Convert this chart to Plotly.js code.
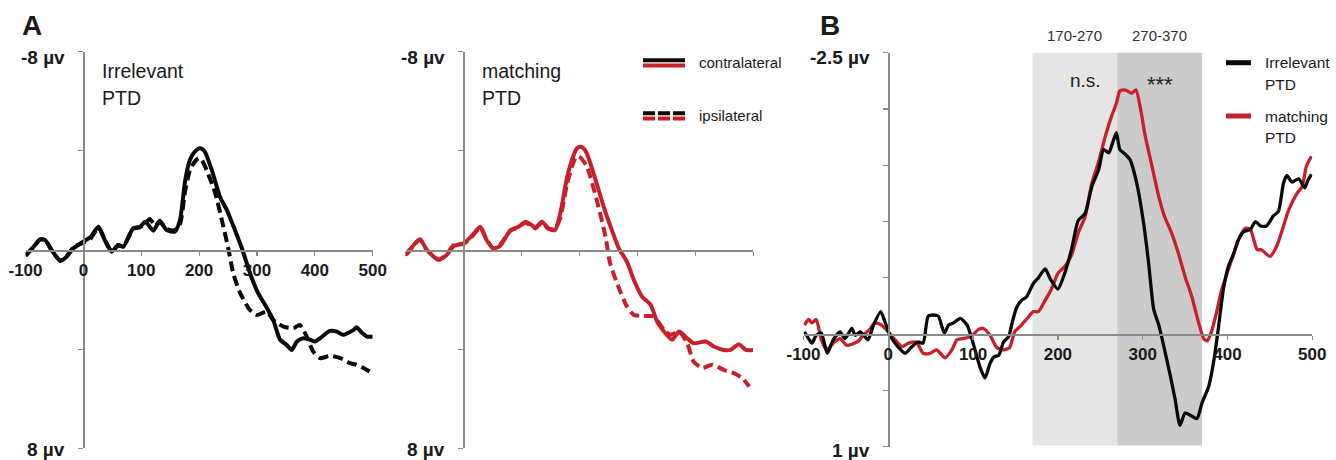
<!DOCTYPE html>
<html>
<head>
<meta charset="utf-8">
<script src="https://cdn.plot.ly/plotly-3.0.1.min.js"></script>
<style>html,body{margin:0;padding:0;background:#fff;}#chart{width:1336px;height:460px;}</style>
</head>
<body>
<div id="chart"></div>
<script>
// ---------------- DATA ----------------
// Panel A, left: Irrelevant PTD (µV, time in ms)
const tIrrContra = [-100,-86,-75,-66,-55,-40,-29,-17,0,12,26,37,49,60,69,86,98,107,121,132,144,158,167,176,184,192,199,205,210,222,236,248,262,274,288,302,314,328,340,351,360,369,380,392,400,409,426,438,449,467,472,481,490,500];
const vIrrContra = [0.24,-0.13,-0.43,-0.4,0,0.44,0.27,-0.07,-0.34,-0.51,-0.94,-0.4,0.07,-0.2,-0.13,-0.87,-0.94,-1.14,-0.78,-1.18,-0.8,-0.74,-1.21,-2.82,-3.62,-3.95,-4.09,-4.08,-3.96,-3.22,-2.15,-1.61,-0.8,-0.07,0.94,1.74,2.21,2.82,3.62,3.82,4.03,3.69,3.56,3.62,3.69,3.56,3.26,3.29,3.42,3.22,3.11,3.33,3.49,3.49];
const tIrrIpsi = [-100,-86,-75,-66,-55,-40,-29,-17,0,12,26,37,49,60,69,86,98,107,115,124,132,144,158,167,176,184,192,199,205,213,228,242,251,259,271,288,300,317,328,346,363,374,386,397,409,426,444,461,472,484,500];
const vIrrIpsi = [0.22,-0.12,-0.42,-0.4,0,0.42,0.25,-0.12,-0.3,-0.45,-0.9,-0.42,0.05,-0.18,-0.15,-0.85,-0.92,-1.08,-1.25,-0.98,-1.12,-0.85,-0.8,-1.05,-2.4,-3.2,-3.55,-3.7,-3.62,-3.22,-2.28,-0.94,0,0.94,1.74,2.42,2.62,2.48,2.82,3.09,3.15,3.02,3.49,4.09,4.36,4.27,4.36,4.56,4.63,4.76,4.97];
// Panel A, right: matching PTD
const tMatContra = [-100,-95,-86,-75,-63,-43,-29,-17,0,14,29,40,52,63,81,95,107,118,124,135,147,158,167,179,190,196,202,207,213,228,242,256,268,282,294,308,323,334,346,360,372,386,397,418,432,449,461,475,487,500];
const vMatContra = [0.2,0.1,-0.2,-0.43,0,0.4,0.2,-0.16,-0.27,-0.56,-0.94,-0.4,-0.07,-0.16,-0.8,-0.94,-1.14,-1.0,-0.87,-1.14,-0.87,-0.8,-1.48,-2.95,-3.82,-4.1,-4.16,-4.1,-3.89,-2.82,-1.74,-0.8,-0.07,0.47,1.21,1.88,2.21,2.89,3.29,3.62,3.29,3.56,3.76,3.69,3.89,4.03,4.03,3.8,4.03,4.03];
const tMatIpsi = [-100,-86,-75,-63,-43,-29,-17,0,14,29,40,52,63,81,95,107,118,124,135,147,158,167,179,190,196,202,213,230,245,253,265,282,294,311,328,346,357,372,386,397,412,429,449,467,481,493];
const vMatIpsi = [0.18,-0.18,-0.42,0,0.38,0.18,-0.2,-0.25,-0.52,-0.9,-0.42,-0.05,-0.2,-0.78,-0.92,-1.1,-0.95,-0.88,-1.1,-0.85,-0.85,-1.3,-2.7,-3.55,-3.78,-3.72,-3.36,-2.01,-0.54,0.54,1.34,2.28,2.62,2.66,2.68,3.22,3.42,3.29,3.76,4.5,4.76,4.63,4.83,4.97,5.17,5.5];
// Panel B: difference waves
const tDiffIrr = [-99,-94,-90,-85,-79,-72,-65,-57,-51,-43,-39,-33,-24,-18,-9,-4,2,10,20,28,35,41,47,53,59,66,71,77,85,93,100,108,114,120,125,130,136,142,146,151,157,163,171,177,185,191,200,208,216,224,232,240,248,254,260,265,269,273,279,285,293,301,307,313,319,324,332,338,344,350,356,364,370,378,384,389,395,401,407,413,419,427,433,439,446,454,460,466,470,476,484,491,495,499];
const vDiffIrr = [-0.02,0.04,0.08,0.01,-0.01,0.17,0.05,-0.02,0.04,-0.05,0.01,-0.02,0.05,-0.07,-0.2,-0.11,0.01,0.1,0.17,0.11,0.07,0.08,-0.16,-0.17,-0.16,-0.01,-0.08,-0.1,-0.14,-0.08,0.08,0.29,0.39,0.26,0.2,0.19,0.07,0.02,-0.1,-0.23,-0.3,-0.33,-0.45,-0.5,-0.58,-0.49,-0.4,-0.54,-0.75,-1.01,-1.07,-1.31,-1.46,-1.64,-1.61,-1.71,-1.79,-1.64,-1.6,-1.55,-1.34,-0.99,-0.63,-0.22,-0.08,0.08,0.35,0.57,0.81,0.7,0.72,0.75,0.61,0.46,0.23,-0.04,-0.39,-0.6,-0.71,-0.84,-0.91,-0.93,-1.0,-0.96,-0.96,-1.05,-1.09,-1.34,-1.41,-1.35,-1.38,-1.3,-1.37,-1.42];
const tDiffMat = [-99,-94,-90,-85,-79,-73,-65,-57,-49,-43,-35,-30,-22,-16,-8,0,8,16,24,33,41,49,57,67,75,81,88,98,106,112,120,128,136,143,149,157,165,171,177,185,193,200,208,216,224,232,240,248,256,263,269,273,279,287,292,297,303,311,319,326,334,342,350,358,366,372,376,381,387,393,399,405,413,421,427,435,440,450,458,466,472,482,488,493,499];
const vDiffMat = [-0.08,-0.13,-0.1,-0.13,0.05,0.14,0.08,0.04,0.1,0.09,0.06,0.01,-0.04,-0.1,-0.08,-0.02,0.05,0.11,0.08,0.07,0.17,0.17,0.14,0.21,0.14,0.05,0.04,0.02,-0.04,-0.05,0.01,0.12,0.14,0.12,-0.02,-0.08,-0.15,-0.2,-0.2,-0.3,-0.41,-0.54,-0.6,-0.7,-0.9,-1.04,-1.34,-1.53,-1.76,-1.93,-2.05,-2.16,-2.17,-2.14,-2.17,-2.02,-1.76,-1.49,-1.22,-1.04,-0.9,-0.72,-0.51,-0.33,-0.1,0.04,0.06,-0.02,-0.19,-0.39,-0.53,-0.66,-0.84,-0.94,-0.93,-0.75,-0.75,-0.69,-0.78,-0.96,-1.1,-1.25,-1.31,-1.49,-1.58];
// Axis ticks / labels / windows
const timeTicks = [-100,0,100,200,300,400,500];
const timeTickText = ['-100','0','100','200','300','400','500'];
const ampTicksA = [-8,-4,4,8];
const ampTicksB = [-2.5,-2,-1.5,-1,-0.5,0.5,1];
const windows = [[170,270],[270,370]];
const windowLabels = ['170-270','270-370'];
const windowStats = ['n.s.','***'];

// ---------------- LAYOUT HELPERS ----------------
const W = 1336, H = 460;
const px = x => x / W;
const py = y => 1 - y / H;
const BLACK = '#0a0a0a', RED = '#c8202a', AX = '#8a8a8a';
const NARROW = 'Liberation Sans Narrow, Arial Narrow, Liberation Sans, Arial, sans-serif';
const SANS = 'Liberation Sans, Arial, sans-serif';

const dA1x = [px(25.5), px(372.7)], dA2x = [px(405.5), px(753.3)], dBx = [px(803.5), px(1312.3)];
const dAy = [py(448.4), py(51.6)], dBy = [py(446.7), py(52.7)];
const zeroPos = (dom, frac) => dom[0] + (dom[1] - dom[0]) * frac;

function xAxis(dom, pos, labels) {
  return {domain: dom, range: [-100, 500], anchor: 'free', position: pos,
    showline: true, linecolor: AX, linewidth: 1.5, showgrid: false, zeroline: false,
    tickmode: 'array', tickvals: timeTicks, ticktext: timeTickText, ticks: 'outside', ticklen: 4, tickwidth: 1.2, tickcolor: AX,
    showticklabels: labels, tickfont: {family: NARROW, size: 17, color: '#1a1a1a', weight: 'bold'}, fixedrange: true};
}
function yAxis(dom, pos, range, tv) {
  return {domain: dom, range: range, anchor: 'free', position: pos,
    showline: true, linecolor: AX, linewidth: 1.5, showgrid: false, zeroline: false,
    tickmode: 'array', tickvals: tv, ticks: 'outside', ticklen: 5, tickwidth: 1.2, tickcolor: AX,
    showticklabels: false, fixedrange: true};
}

const lineSpec = (c, w, dash) => ({color: c, width: w, dash: dash || 'solid', shape: 'spline', smoothing: 0.6});

const traces = [
  {x: tIrrIpsi, y: vIrrIpsi, xaxis: 'x', yaxis: 'y', mode: 'lines', line: lineSpec(BLACK, 4, '10px,5px')},
  {x: tIrrContra, y: vIrrContra, xaxis: 'x', yaxis: 'y', mode: 'lines', line: lineSpec(BLACK, 4)},
  {x: tMatIpsi, y: vMatIpsi, xaxis: 'x2', yaxis: 'y2', mode: 'lines', line: lineSpec(RED, 4, '10px,5px')},
  {x: tMatContra, y: vMatContra, xaxis: 'x2', yaxis: 'y2', mode: 'lines', line: lineSpec(RED, 4)},
  {x: tDiffMat, y: vDiffMat, xaxis: 'x3', yaxis: 'y3', mode: 'lines', line: lineSpec(RED, 3.3)},
  {x: tDiffIrr, y: vDiffIrr, xaxis: 'x3', yaxis: 'y3', mode: 'lines', line: lineSpec(BLACK, 3.3)}
];

const shapes = [
  {type: 'rect', xref: 'x3', yref: 'y3', x0: windows[0][0], x1: windows[0][1], y0: -2.53, y1: 0.99, fillcolor: '#e5e5e5', line: {width: 0}, layer: 'below'},
  {type: 'rect', xref: 'x3', yref: 'y3', x0: windows[1][0], x1: windows[1][1], y0: -2.53, y1: 0.99, fillcolor: '#cbcbcb', line: {width: 0}, layer: 'below'},
  // legend glyphs (panel A)
  {type: 'line', xref: 'paper', yref: 'paper', x0: px(643), x1: px(685), y0: py(60.2), y1: py(60.2), line: {color: BLACK, width: 4}},
  {type: 'line', xref: 'paper', yref: 'paper', x0: px(643), x1: px(685), y0: py(65.5), y1: py(65.5), line: {color: RED, width: 4}},
  {type: 'line', xref: 'paper', yref: 'paper', x0: px(643), x1: px(685), y0: py(113.3), y1: py(113.3), line: {color: BLACK, width: 4, dash: '12px,3px'}},
  {type: 'line', xref: 'paper', yref: 'paper', x0: px(643), x1: px(685), y0: py(118.6), y1: py(118.6), line: {color: RED, width: 4, dash: '12px,3px'}},
  // legend glyphs (panel B)
  {type: 'line', xref: 'paper', yref: 'paper', x0: px(1226), x1: px(1251), y0: py(62.7), y1: py(62.7), line: {color: BLACK, width: 5}},
  {type: 'line', xref: 'paper', yref: 'paper', x0: px(1226), x1: px(1251), y0: py(116), y1: py(116), line: {color: RED, width: 5}}
];

function txt(text, x, y, opts) {
  opts = opts || {};
  return {text: text, xref: 'paper', yref: 'paper', x: px(x), y: py(y), showarrow: false,
    xanchor: opts.xa || 'left', yanchor: 'middle',
    font: {family: opts.family || SANS, size: opts.size || 15, color: opts.color || '#1a1a1a', weight: opts.weight || 'normal'}};
}
const annotations = [
  txt('A', 32, 25, {xa: 'center', size: 28, weight: 'bold'}),
  txt('B', 830, 25, {xa: 'center', size: 28, weight: 'bold'}),
  txt('-8 µv', 67, 57, {xa: 'right', size: 19, weight: 'bold'}),
  txt('8 µv', 67, 449, {xa: 'right', size: 19, weight: 'bold'}),
  txt('-8 µv', 447, 57, {xa: 'right', size: 19, weight: 'bold'}),
  txt('8 µv', 447, 449, {xa: 'right', size: 19, weight: 'bold'}),
  txt('-2.5 µv', 872, 57, {xa: 'right', size: 19, weight: 'bold'}),
  txt('1 µv', 872, 450, {xa: 'right', size: 19, weight: 'bold'}),
  txt('Irrelevant', 100, 71, {size: 19.5}),
  txt('PTD', 100, 98, {size: 19.5}),
  txt('matching', 480, 71, {size: 19.5}),
  txt('PTD', 480, 98, {size: 19.5}),
  txt('contralateral', 697, 63, {size: 15}),
  txt('ipsilateral', 697, 115, {size: 15}),
  txt(windowLabels[0], 1074, 35, {xa: 'center', size: 15, color: '#333'}),
  txt(windowLabels[1], 1159, 35, {xa: 'center', size: 15, color: '#333'}),
  txt(windowStats[0], 1085, 81, {xa: 'center', size: 19, color: '#222'}),
  txt(windowStats[1], 1160, 85, {xa: 'center', size: 22, color: '#222'}),
  txt('Irrelevant', 1263, 62.7, {size: 15.5}),
  txt('PTD', 1263, 84, {size: 15.5}),
  txt('matching', 1263, 116, {size: 15.5}),
  txt('PTD', 1263, 137.3, {size: 15.5})
];

const layout = {
  width: W, height: H, margin: {l: 0, r: 0, t: 0, b: 0},
  paper_bgcolor: '#ffffff', plot_bgcolor: 'rgba(0,0,0,0)', showlegend: false, hovermode: false,
  xaxis: xAxis(dA1x, zeroPos(dAy, 0.5), true),
  yaxis: yAxis(dAy, zeroPos(dA1x, 1/6), [8, -8], ampTicksA),
  xaxis2: xAxis(dA2x, zeroPos(dAy, 0.5), false),
  yaxis2: yAxis(dAy, zeroPos(dA2x, 1/6), [8, -8], ampTicksA),
  xaxis3: xAxis(dBx, zeroPos(dBy, 1/3.5), true),
  yaxis3: yAxis(dBy, zeroPos(dBx, 1/6), [1, -2.5], ampTicksB),
  shapes: shapes, annotations: annotations
};

Plotly.newPlot('chart', traces, layout, {staticPlot: true, displayModeBar: false});
</script>
</body>
</html>
